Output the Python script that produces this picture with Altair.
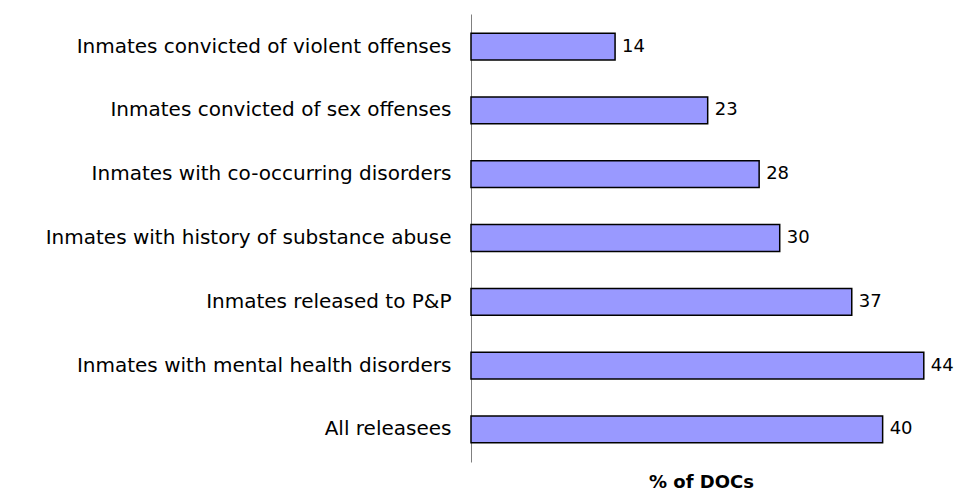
import altair as alt
import pandas as pd

categories = [
    "Inmates convicted of violent offenses",
    "Inmates convicted of sex offenses",
    "Inmates with co-occurring disorders",
    "Inmates with history of substance abuse",
    "Inmates released to P&P",
    "Inmates with mental health disorders",
    "All releasees",
]
values = [14, 23, 28, 30, 37, 44, 40]

df = pd.DataFrame({"cat": categories, "val": values})

FONT = "DejaVu Sans"

y = alt.Y("cat:N", sort=categories,
          scale=alt.Scale(paddingInner=0.58, paddingOuter=0.3),
          axis=alt.Axis(title=None, ticks=False, labelFontSize=20, labelPadding=20,
                        labelFont=FONT, labelColor="black", labelLimit=500,
                        domainColor="#808080", domainWidth=1))
x = alt.X("val:Q", scale=alt.Scale(domain=[0, 44.7], nice=False),
          axis=alt.Axis(title="% of DOCs", labels=False, ticks=False, domain=False, grid=False,
                        titleFont=FONT, titleFontSize=18, titleFontWeight="bold",
                        titleColor="black", titlePadding=11))

bars = alt.Chart(df).mark_bar(fill="#9999FF", stroke="black", strokeWidth=1.5).encode(x=x, y=y)
text = alt.Chart(df).mark_text(align="left", dx=7, fontSize=18, font=FONT,
                               color="black").encode(x=x, y=y, text="val:Q")

chart = (bars + text).properties(
    width=460, height=448,
    autosize=alt.AutoSizeParams(type="none"),
    padding={"left": 463, "top": 6, "right": 23, "bottom": 30},
).configure_view(stroke=None)

chart.save("out.html", embed_options={"renderer": "svg", "actions": False})
